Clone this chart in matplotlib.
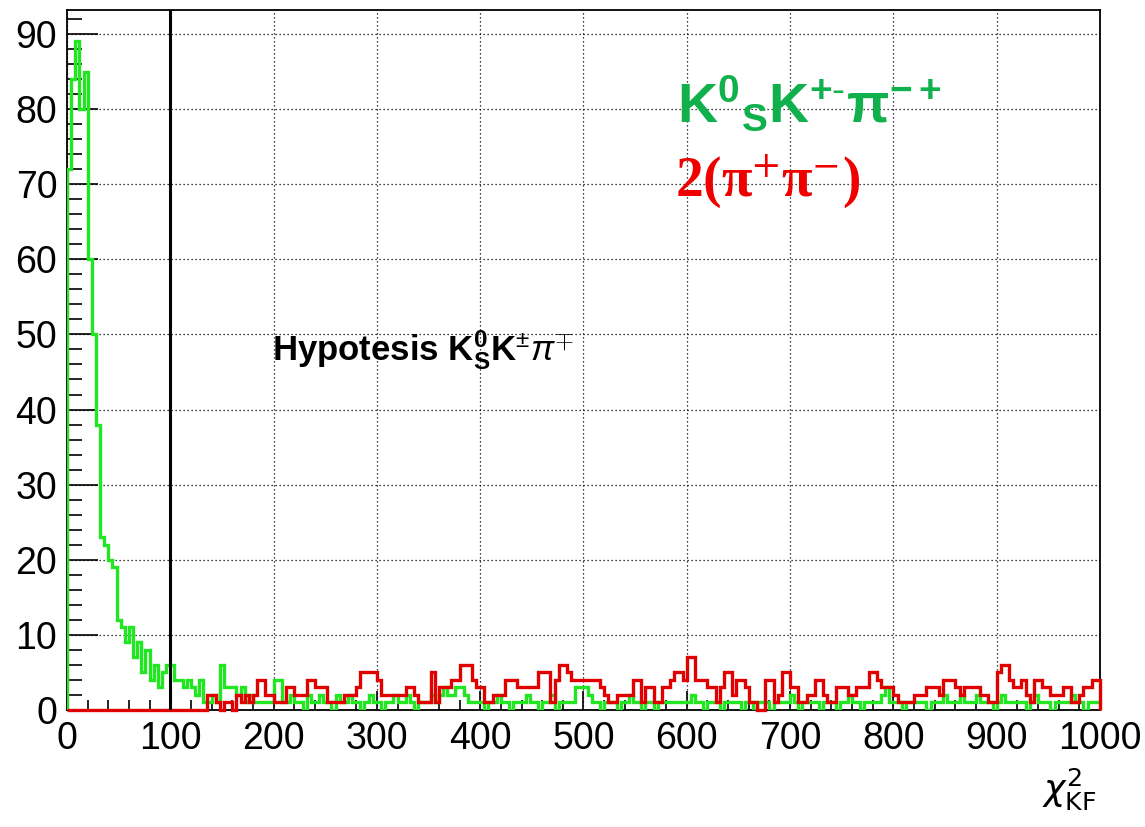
import matplotlib
matplotlib.use("Agg")
import matplotlib.pyplot as plt
import numpy as np

plt.rcParams['font.family'] = ['Liberation Sans', 'DejaVu Sans']
plt.rcParams['mathtext.fontset'] = 'custom'
plt.rcParams['mathtext.rm'] = 'Liberation Sans'
plt.rcParams['mathtext.bf'] = 'Liberation Sans:bold'
plt.rcParams['mathtext.it'] = 'Liberation Sans:italic'
plt.rcParams['mathtext.sf'] = 'Liberation Sans'

# chi2 of the kinematic fit, 250 bins of width 4 between 0 and 1000
edges = np.linspace(0, 1000, 251)

# K0s K+- pi-+ sample
kskpi = [
    72, 84, 89, 80, 85, 60, 50, 38, 23, 22,
    20, 19, 12, 11, 9, 11, 7, 9, 5, 8,
    4, 6, 3, 5, 6, 6, 4, 4, 3, 4,
    3, 2, 4, 1, 1, 2, 1, 6, 3, 3,
    3, 2, 3, 1, 2, 1, 1, 1, 1, 1,
    4, 4, 1, 1, 2, 1, 1, 0, 2, 1,
    1, 2, 1, 1, 0, 2, 1, 1, 2, 1,
    1, 0, 1, 2, 1, 1, 0, 1, 1, 2,
    1, 1, 2, 1, 0, 1, 1, 1, 2, 1,
    2, 3, 2, 2, 3, 3, 2, 1, 1, 1,
    1, 0, 1, 1, 2, 1, 1, 0, 1, 1,
    1, 2, 1, 1, 0, 1, 1, 2, 0, 1,
    1, 1, 1, 3, 3, 3, 2, 1, 1, 0,
    1, 1, 1, 0, 1, 1, 2, 1, 1, 0,
    1, 1, 0, 1, 1, 1, 1, 1, 1, 1,
    1, 2, 1, 1, 0, 1, 1, 1, 0, 1,
    1, 1, 1, 0, 1, 1, 0, 1, 1, 1,
    0, 1, 1, 1, 1, 2, 1, 0, 1, 1,
    1, 1, 0, 1, 1, 1, 0, 1, 1, 2,
    1, 1, 0, 1, 1, 1, 1, 2, 3, 1,
    1, 1, 0, 1, 1, 1, 1, 1, 0, 1,
    1, 1, 2, 1, 1, 1, 2, 1, 1, 1,
    2, 1, 1, 1, 0, 1, 2, 1, 1, 1,
    1, 1, 0, 1, 2, 1, 1, 1, 0, 1,
    1, 1, 1, 2, 1, 1, 0, 1, 1, 1,
]

# 2(pi+ pi-) sample
fourpi = [
    0, 0, 0, 0, 0, 0, 0, 0, 0, 0,
    0, 0, 0, 0, 0, 0, 0, 0, 0, 0,
    0, 0, 0, 0, 0, 0, 0, 0, 0, 0,
    0, 0, 0, 0, 2, 2, 1, 0, 1, 1,
    0, 2, 1, 2, 1, 2, 4, 4, 2, 2,
    1, 1, 1, 3, 3, 2, 2, 2, 4, 4,
    3, 3, 3, 1, 1, 1, 1, 2, 2, 2,
    3, 5, 5, 5, 5, 4, 2, 2, 2, 2,
    2, 2, 3, 3, 2, 1, 1, 1, 5, 1,
    3, 3, 3, 4, 4, 6, 6, 6, 4, 3,
    3, 1, 1, 2, 2, 2, 4, 4, 4, 3,
    3, 3, 3, 3, 5, 5, 5, 1, 4, 6,
    6, 5, 4, 4, 4, 4, 4, 4, 4, 3,
    2, 1, 1, 2, 2, 2, 2, 4, 4, 1,
    3, 3, 1, 1, 3, 3, 4, 5, 5, 4,
    7, 7, 4, 4, 4, 3, 3, 1, 3, 5,
    5, 2, 4, 4, 3, 1, 1, 0, 0, 4,
    4, 1, 2, 5, 5, 3, 3, 1, 1, 2,
    2, 4, 4, 2, 1, 1, 3, 3, 3, 2,
    2, 3, 3, 3, 5, 5, 4, 3, 3, 3,
    2, 1, 1, 1, 1, 2, 2, 2, 3, 3,
    3, 2, 4, 4, 4, 3, 2, 3, 3, 3,
    3, 2, 2, 1, 1, 5, 6, 6, 4, 3,
    3, 4, 2, 1, 4, 4, 3, 3, 2, 2,
    2, 3, 3, 1, 1, 2, 3, 3, 4, 4,
]

chi2_cut = 100

fig = plt.figure(figsize=(11.45, 8.27), dpi=100)
ax = fig.add_axes([0.0585, 0.1415, 0.9022, 0.8465])

ax.stairs(kskpi, edges, color='#22e622', lw=2.4, zorder=3)
ax.stairs(fourpi, edges, color='#e00000', lw=2.4, zorder=4, clip_on=False)
ax.axvline(chi2_cut, color='black', lw=2.2, zorder=5)

ax.set_xlim(0, 1000)
ax.set_ylim(0, 93.2)
ax.set_xticks(np.arange(0, 1001, 100))
ax.set_xticks(np.arange(0, 1001, 20), minor=True)
ax.set_yticks(np.arange(0, 91, 10))
ax.set_yticks(np.arange(0, 93, 2), minor=True)
ax.grid(True, which='major', color='black', lw=0.9, linestyle=(0, (1, 2.2)))
ax.set_axisbelow(True)

ax.tick_params(axis='both', which='both', direction='in', labelsize=27,
               top=False, right=False)
ax.tick_params(axis='y', which='major', length=22, width=1.2, pad=7)
ax.tick_params(axis='y', which='minor', length=11, width=1.2)
ax.tick_params(axis='x', which='major', length=14, width=1.2, pad=8)
ax.tick_params(axis='x', which='minor', length=7, width=1.2)
for s in ax.spines.values():
    s.set_linewidth(1.3)

fig.text(0.958, 0.032, r'$\chi^{2}_{\mathrm{KF}}$', fontsize=26,
         ha='right', va='baseline', math_fontfamily='dejavusans')

ax.text(0.198, 0.5, r'Hypotesis $\mathbf{K}^{\mathbf{0}}_{\mathbf{S}}\mathbf{K}^{\pm}\pi^{\mp}$',
        transform=ax.transAxes, fontsize=25, fontweight='bold', ha='left', va='baseline')

ax.text(0.591, 0.84, r'$\mathbf{K}^{\mathbf{0}}{}_{\mathbf{S}}\mathbf{K}^{\mathbf{+\text{-}}}\mathbf{\pi}^{\mathbf{-+}}$',
        transform=ax.transAxes, fontsize=40, color='#10b04c', ha='left', va='baseline')
ax.text(0.589, 0.735, r'2(π$^{+}$π$^{-}$)', transform=ax.transAxes, fontsize=40,
        color='#ee0000', fontweight='bold', family='Liberation Serif',
        math_fontfamily='stix', ha='left', va='baseline')

fig.savefig('out.png', dpi=100)
